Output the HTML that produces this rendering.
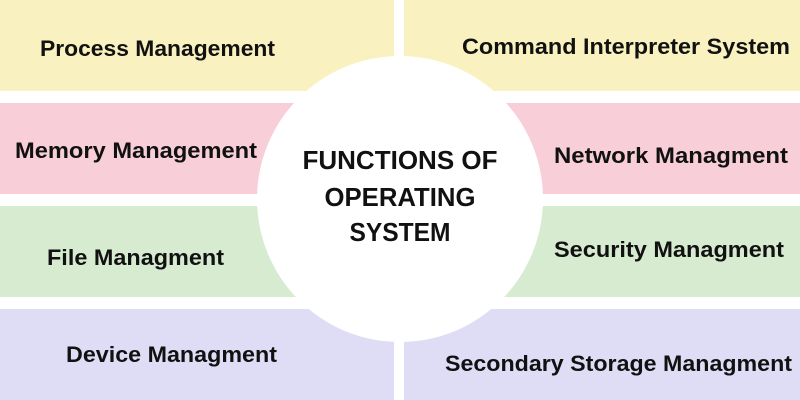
<!DOCTYPE html>
<html><head><meta charset="utf-8"><style>
html,body{margin:0;padding:0;background:#fff;width:800px;height:400px;overflow:hidden}
svg text{font-family:"Liberation Sans",sans-serif;fill:#111}
</style></head><body>
<svg width="800" height="400" xmlns="http://www.w3.org/2000/svg">
<rect x="0" y="0" width="800" height="400" fill="#fff"/>
<rect x="0" y="0" width="394" height="91" fill="#f9f2c0"/>
<rect x="404" y="0" width="396" height="91" fill="#f9f2c0"/>
<rect x="0" y="103" width="394" height="91" fill="#f8cfd9"/>
<rect x="404" y="103" width="396" height="91" fill="#f8cfd9"/>
<rect x="0" y="206" width="394" height="91" fill="#d6ebd0"/>
<rect x="404" y="206" width="396" height="91" fill="#d6ebd0"/>
<rect x="0" y="309" width="394" height="91" fill="#dfddf5"/>
<rect x="404" y="309" width="396" height="91" fill="#dfddf5"/>
<circle cx="400" cy="199" r="143" fill="#fff"/>
<g font-size="22" font-weight="bold">
<text x="40" y="56" textLength="235" lengthAdjust="spacingAndGlyphs">Process Management</text>
<text x="462" y="54" textLength="328" lengthAdjust="spacingAndGlyphs">Command Interpreter System</text>
<text x="15" y="158" textLength="242" lengthAdjust="spacingAndGlyphs">Memory Management</text>
<text x="554" y="163" textLength="234" lengthAdjust="spacingAndGlyphs">Network Managment</text>
<text x="47" y="265" textLength="177" lengthAdjust="spacingAndGlyphs">File Managment</text>
<text x="554" y="257" textLength="230" lengthAdjust="spacingAndGlyphs">Security Managment</text>
<text x="66" y="362" textLength="211" lengthAdjust="spacingAndGlyphs">Device Managment</text>
<text x="445" y="371" textLength="347" lengthAdjust="spacingAndGlyphs">Secondary Storage Managment</text>
</g>
<g font-size="26" font-weight="bold" text-anchor="middle">
<text x="400" y="169" textLength="195" lengthAdjust="spacingAndGlyphs">FUNCTIONS OF</text>
<text x="400" y="206" textLength="151" lengthAdjust="spacingAndGlyphs">OPERATING</text>
<text x="400" y="241" textLength="101" lengthAdjust="spacingAndGlyphs">SYSTEM</text>
</g>
</svg>
</body></html>
